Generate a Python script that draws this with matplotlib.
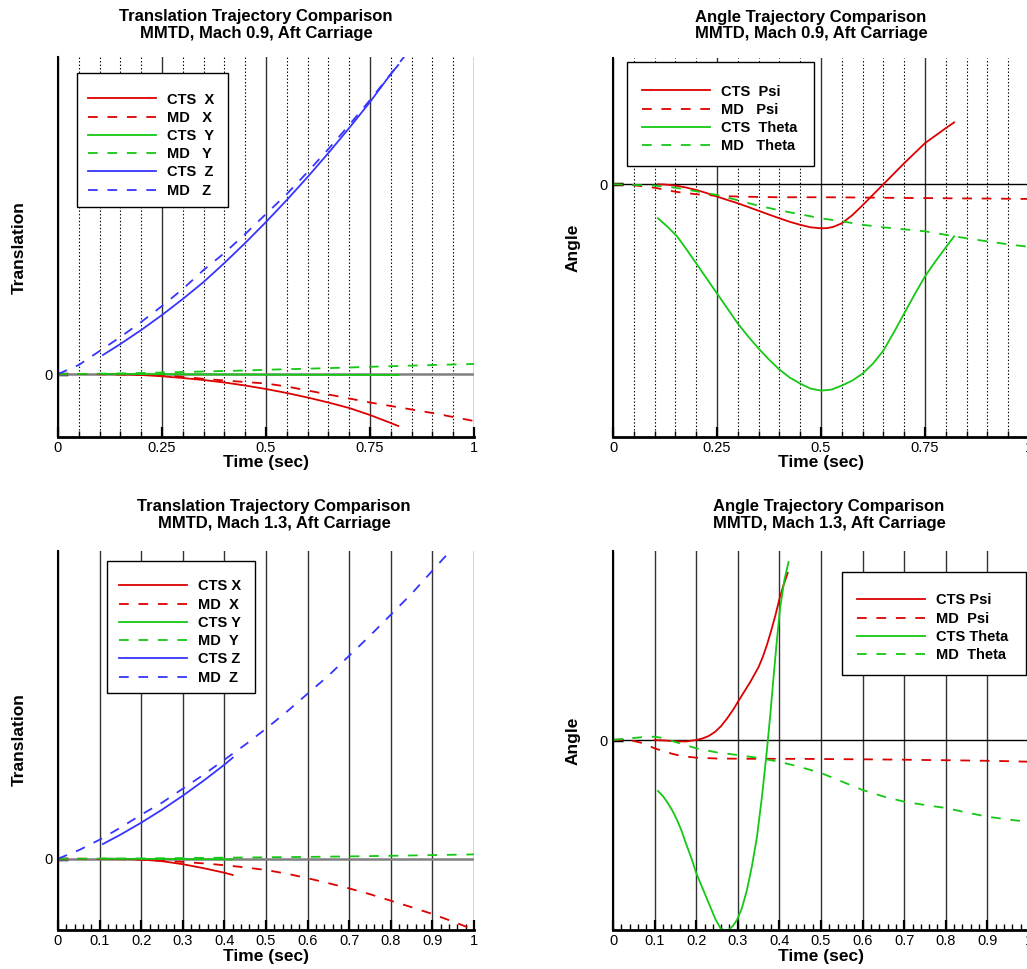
import matplotlib
matplotlib.use("Agg")
import matplotlib.pyplot as plt
from matplotlib.ticker import MultipleLocator, FixedLocator, FuncFormatter
from matplotlib.patches import Rectangle

plt.rcParams['font.family'] = ['Liberation Sans', 'DejaVu Sans']
plt.rcParams['lines.scale_dashes'] = False

# ---------------- data (arbitrary units) ----------------
# Mach 0.9 translation
t_cts_09 = [0.108, 0.15, 0.2, 0.25, 0.3, 0.35, 0.4, 0.45, 0.5, 0.55, 0.6, 0.65, 0.7, 0.75, 0.8, 0.818]
cts_x_09 = [0, -0.3, -1, -2.3, -4, -6, -8.5, -11.5, -15, -19, -23.5, -28.5, -34, -41, -49, -52]
cts_y_09 = [0, 0, -0.1, -0.2, -0.3, -0.4, -0.5, -0.6, -0.7, -0.75, -0.8, -0.85, -0.9, -0.95, -1, -1]
cts_z_09 = [19, 30, 44, 59, 75, 92, 111, 131, 152, 174, 197, 221, 246, 272, 300, 309]
t_md_09 = [0, 0.05, 0.1, 0.15, 0.2, 0.25, 0.3, 0.35, 0.4, 0.45, 0.5, 0.55, 0.6, 0.65, 0.7,
           0.75, 0.8, 0.85, 0.9, 0.95, 1.0]
md_x_09 = [0, 0, -0.2, -0.5, -0.8, -1.2, -2.8, -4.8, -6.5, -8, -9.5, -12.5, -16.5, -20.5, -24.5,
           -28.5, -32, -35.5, -39, -43, -47]
md_y_09 = [0, 0, 0.3, 0.6, 1, 1.5, 2, 2.5, 3, 3.5, 4.2, 4.8, 5.3, 5.9, 6.5,
           7.2, 7.8, 8.4, 9, 9.5, 10]
md_z_09 = [0, 9, 23, 37, 52, 68, 85, 104, 121, 140, 160, 180, 202, 225, 249,
           274, 300, 327, 355, 384, 414]

# Mach 0.9 angles
t_cts_psi_09 = [0.108, 0.125, 0.15, 0.175, 0.2, 0.225, 0.25, 0.275, 0.3, 0.325, 0.35, 0.375,
                0.4, 0.425, 0.45, 0.475, 0.5, 0.515, 0.53, 0.55, 0.575, 0.6, 0.625, 0.65,
                0.675, 0.7, 0.725, 0.75, 0.775, 0.8, 0.82]
cts_psi_09 = [0, -0.3, -1.3, -3.2, -5.7, -8.8, -12.3, -15.7, -19, -22.7, -26.5, -30.3,
              -34, -37.5, -40.5, -43, -44, -43.8, -42.5, -39, -31, -21, -10.5, 0,
              10.5, 21, 31, 41, 48.5, 56, 61.7]
t_cts_theta_09 = [0.108, 0.13, 0.154, 0.175, 0.2, 0.225, 0.25, 0.275, 0.3, 0.325, 0.35, 0.375,
                  0.4, 0.425, 0.45, 0.475, 0.5, 0.525, 0.55, 0.575, 0.6, 0.625, 0.65, 0.675,
                  0.7, 0.725, 0.75, 0.775, 0.8, 0.82]
cts_theta_09 = [-34, -42, -52, -64, -79, -94, -109, -124, -139, -152, -164, -175,
                -185, -193, -199, -204, -206, -205, -201, -196, -189, -179, -166, -148,
                -129, -110, -92, -77, -63, -52]
md_psi_09 = [0, -1, -3.5, -7.5, -10, -11.5, -12.3, -12.7, -13, -13, -13, -13.1, -13.3, -13.5, -13.7,
             -13.8, -14, -14.2, -14.3, -14.5, -14.7]
md_theta_09 = [0, -0.7, -1.3, -3.5, -7, -10.7, -16, -21.5, -26, -30, -34, -37, -40.5, -43, -45,
               -47, -50.5, -54, -57, -60, -62.5]

# Mach 1.3 translation
t_cts_13 = [0.108, 0.15, 0.2, 0.25, 0.3, 0.35, 0.4, 0.42]
cts_x_13 = [0, -0.2, -0.8, -2.5, -5.5, -9.5, -14, -16.3]
cts_y_13 = [0, -0.1, -0.2, -0.3, -0.4, -0.5, -0.6, -0.7]
cts_z_13 = [14.7, 24, 36, 49, 63, 78, 94, 101]
t_md_13 = t_md_09
md_x_13 = [0, 0, -0.2, -0.5, -1, -2, -3.2, -4.7, -6.5, -8.7, -11.3, -15, -19.5, -24.5, -29.7,
           -35.5, -42, -48.5, -55.3, -63, -71]
md_y_13 = [0, 0, 0.1, 0.2, 0.3, 0.45, 0.6, 0.8, 1.0, 1.2, 1.4, 1.6, 1.8, 2.05, 2.3,
           2.6, 2.9, 3.25, 3.6, 3.95, 4.3]
md_z_13 = [0, 8.5, 19, 31, 44, 56, 70, 84, 99, 114, 130, 147, 165, 183, 203,
           223, 244, 265, 288, 311, 335]

# Mach 1.3 angles
t_cts_psi_13 = [0.1, 0.125, 0.15, 0.175, 0.2, 0.215, 0.23, 0.245, 0.26, 0.275, 0.29, 0.3,
                0.315, 0.33, 0.35, 0.36, 0.37, 0.38, 0.39, 0.4, 0.41, 0.42]
cts_psi_13 = [0, -0.5, -1.3, -1.5, 0, 1.5, 4, 8, 14, 22, 31, 38,
              48, 58, 73, 83, 95, 109, 124, 141, 155, 167]
t_cts_theta_13 = [0.108, 0.12, 0.13, 0.142, 0.154, 0.165, 0.175, 0.19, 0.2, 0.215, 0.234, 0.246,
                  0.258, 0.268, 0.278, 0.288, 0.298, 0.31, 0.322, 0.334, 0.346, 0.358, 0.37,
                  0.378, 0.386, 0.394, 0.402, 0.412, 0.422]
cts_theta_13 = [-51, -56, -62, -70, -80, -91, -103, -120, -133, -148, -167, -179,
                -188, -190.5, -190, -186, -180, -168, -150, -126, -97, -57, -10,
                25, 63, 100, 133, 160, 178]
t_md_ang_13 = [0, 0.04, 0.07, 0.1, 0.12, 0.14, 0.154, 0.17, 0.2, 0.25, 0.3, 0.35, 0.4, 0.45, 0.5,
               0.55, 0.6, 0.65, 0.7, 0.75, 0.8, 0.85, 0.9, 0.95, 1.0]
md_psi_13 = [0, 0, -3, -8.3, -11, -13.5, -15, -16.3, -17.7, -18.5, -18.7, -18.8, -18.8, -18.9, -19,
             -19.2, -19.3, -19.5, -19.7, -20, -20.2, -20.5, -20.8, -21.2, -21.7]
md_theta_13 = [0, 1.7, 2.8, 3.3, 2, -0.7, -2.5, -4.5, -8.3, -12.5, -15, -18, -21.7, -27, -33,
               -41.5, -50, -56.5, -61.7, -65, -68, -72.5, -76.7, -79.5, -82]

titles = [
    ("Translation Trajectory Comparison", "MMTD, Mach 0.9, Aft Carriage"),
    ("Angle Trajectory Comparison", "MMTD, Mach 0.9, Aft Carriage"),
    ("Translation Trajectory Comparison", "MMTD, Mach 1.3, Aft Carriage"),
    ("Angle Trajectory Comparison", "MMTD, Mach 1.3, Aft Carriage"),
]
labels_tr_09 = ["CTS  X", "MD   X", "CTS  Y", "MD   Y", "CTS  Z", "MD   Z"]
labels_an_09 = ["CTS  Psi", "MD   Psi", "CTS  Theta", "MD   Theta"]
labels_tr_13 = ["CTS X", "MD  X", "CTS Y", "MD  Y", "CTS Z", "MD  Z"]
labels_an_13 = ["CTS Psi", "MD  Psi", "CTS Theta", "MD  Theta"]

# ---------------- styling ----------------
RED = '#dd0000'
GREEN = '#14c814'
BLUE = '#3535ff'
DASH = (0, (7, 7))
LW = 1.3

W, H = 1027, 969
fig = plt.figure(figsize=(W / 100, H / 100), dpi=100)


def fx(px):
    return px / W


def fy(py):
    return 1 - py / H


def make_axes(left, top, right, bottom):
    return fig.add_axes([fx(left), fy(bottom), (right - left) / W, (bottom - top) / H])


fmt = FuncFormatter(lambda v, _: ('%g' % round(v, 3)))


def setup(ax, ylim, major, minor, dotted, zero_color, zero_lw):
    ax.set_xlim(0, 1)
    ax.set_ylim(*ylim)
    for s in ('top', 'right'):
        ax.spines[s].set_visible(False)
    ax.spines['left'].set_linewidth(1.5)
    ax.spines['bottom'].set_linewidth(2.0)
    ax.xaxis.set_major_locator(MultipleLocator(major))
    ax.xaxis.set_minor_locator(MultipleLocator(minor))
    ax.xaxis.set_major_formatter(fmt)
    ax.yaxis.set_major_locator(FixedLocator([0]))
    ax.yaxis.set_major_formatter(FuncFormatter(lambda v, _: '0'))
    ax.tick_params(axis='x', which='major', direction='in', length=7, width=1.6,
                   labelsize=10.5, pad=3, top=False)
    ax.tick_params(axis='x', which='minor', direction='in', length=4, width=1.0, top=False)
    ax.tick_params(axis='y', which='major', direction='in', length=7.5, width=2.5,
                   labelsize=10.5, pad=4, right=False)
    ax.set_axisbelow(True)
    ax.grid(True, which='major', axis='x', color='#333333', lw=1.0)
    if dotted:
        ax.grid(True, which='minor', axis='x', color='black', lw=0.8, linestyle=(0, (1, 1.5)))
    ax.axhline(0, color=zero_color, lw=zero_lw, zorder=1)


def add_legend(ax, handles, labels, box, hx, row1):
    l, t, r, b = box
    ax.add_patch(Rectangle((fx(l), fy(b)), (r - l) / W, (b - t) / H, transform=fig.transFigure,
                           facecolor='white', edgecolor='black', lw=1.0, zorder=4, clip_on=False))
    fs = 10.5
    top = row1 - 6.5
    leg = ax.legend(handles, labels, loc='upper left', bbox_to_anchor=(fx(hx), fy(top)),
                    bbox_transform=fig.transFigure, frameon=False, borderpad=0,
                    borderaxespad=0, handlelength=4.66, handletextpad=0.75,
                    labelspacing=0.29, prop={'weight': 'bold', 'size': fs})
    leg.set_zorder(5)


def titles_and_labels(idx, cx, t1, t2, ylab, ylx, yly, xlx, xly):
    a, b = titles[idx]
    fig.text(fx(cx), fy(t1), a, ha='center', va='baseline', fontsize=12, fontweight='bold')
    fig.text(fx(cx), fy(t2), b, ha='center', va='baseline', fontsize=12, fontweight='bold')
    fig.text(fx(ylx), fy(yly), ylab, ha='center', va='center', rotation=90,
             fontsize=12.5, fontweight='bold')
    fig.text(fx(xlx), fy(xly), "Time (sec)", ha='center', va='center',
             fontsize=12.5, fontweight='bold')


# ---------------- Panel 1: Translation Mach 0.9 ----------------
ax1 = make_axes(58, 57, 474, 437)
setup(ax1, (-63, 317), 0.25, 0.05, True, '#808080', 1.8)
h = []
h += ax1.plot(t_cts_09, cts_x_09, color=RED, lw=LW)
h += ax1.plot(t_md_09, md_x_09, color=RED, lw=LW, linestyle=DASH)
h += ax1.plot(t_cts_09, cts_y_09, color=GREEN, lw=LW)
h += ax1.plot(t_md_09, md_y_09, color=GREEN, lw=LW, linestyle=DASH)
h += ax1.plot(t_cts_09, cts_z_09, color=BLUE, lw=LW)
h += ax1.plot(t_md_09, md_z_09, color=BLUE, lw=LW, linestyle=DASH)
add_legend(ax1, h, labels_tr_09, (77, 73, 228, 207), 88, 99)
titles_and_labels(0, 256, 21, 38, "Translation", 19, 248, 266, 463)

# ---------------- Panel 2: Angle Mach 0.9 ----------------
ax2 = make_axes(613, 58, 1029, 437)
setup(ax2, (-252.3, 126), 0.25, 0.05, True, 'black', 1.0)
h = []
h += ax2.plot(t_cts_psi_09, cts_psi_09, color=RED, lw=LW)
h += ax2.plot(t_md_09, md_psi_09, color=RED, lw=LW, linestyle=DASH)
h += ax2.plot(t_cts_theta_09, cts_theta_09, color=GREEN, lw=LW)
h += ax2.plot(t_md_09, md_theta_09, color=GREEN, lw=LW, linestyle=DASH)
add_legend(ax2, h, labels_an_09, (627, 62, 814, 166), 642, 91)
titles_and_labels(1, 811, 22, 38, "Angle", 573, 248, 821, 463)

# ---------------- Panel 3: Translation Mach 1.3 ----------------
ax3 = make_axes(58, 551, 474, 930)
setup(ax3, (-71.3, 307.7), 0.1, 0.02, False, '#808080', 1.8)
h = []
h += ax3.plot(t_cts_13, cts_x_13, color=RED, lw=LW)
h += ax3.plot(t_md_13, md_x_13, color=RED, lw=LW, linestyle=DASH)
h += ax3.plot(t_cts_13, cts_y_13, color=GREEN, lw=LW)
h += ax3.plot(t_md_13, md_y_13, color=GREEN, lw=LW, linestyle=DASH)
h += ax3.plot(t_cts_13, cts_z_13, color=BLUE, lw=LW)
h += ax3.plot(t_md_13, md_z_13, color=BLUE, lw=LW, linestyle=DASH)
add_legend(ax3, h, labels_tr_13, (107, 561, 255, 693), 119, 586)
titles_and_labels(2, 274, 511, 528, "Translation", 19, 740, 266, 956)

# ---------------- Panel 4: Angle Mach 1.3 ----------------
ax4 = make_axes(613, 551, 1029, 930)
setup(ax4, (-190, 189), 0.1, 0.02, False, 'black', 1.0)
h = []
h += ax4.plot(t_cts_psi_13, cts_psi_13, color=RED, lw=LW)
h += ax4.plot(t_md_ang_13, md_psi_13, color=RED, lw=LW, linestyle=DASH)
h += ax4.plot(t_cts_theta_13, cts_theta_13, color=GREEN, lw=LW)
h += ax4.plot(t_md_ang_13, md_theta_13, color=GREEN, lw=LW, linestyle=DASH)
add_legend(ax4, h, labels_an_13, (842, 572, 1026, 675), 857, 600)
titles_and_labels(3, 829, 511, 528, "Angle", 573, 741, 821, 956)

fig.savefig("out.png", dpi=100)
